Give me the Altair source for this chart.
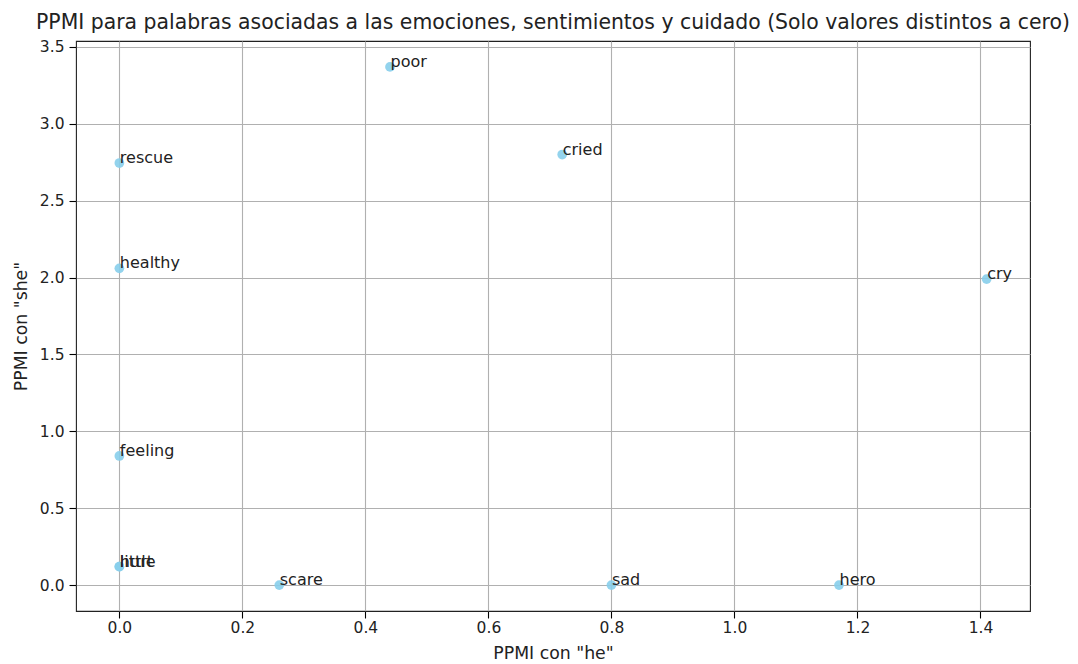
import altair as alt
import pandas as pd

words = ["poor", "cried", "rescue", "healthy", "cry", "feeling", "little", "hurt", "scare", "sad", "hero"]
ppmi_he = [0.44, 0.72, 0.0, 0.0, 1.41, 0.0, 0.0, 0.0, 0.26, 0.80, 1.17]
ppmi_she = [3.37, 2.80, 2.745, 2.06, 1.99, 0.84, 0.12, 0.12, 0.0, 0.0, 0.0]
x_ticks = [0.0, 0.2, 0.4, 0.6, 0.8, 1.0, 1.2, 1.4]
y_ticks = [0.0, 0.5, 1.0, 1.5, 2.0, 2.5, 3.0, 3.5]

df = pd.DataFrame({"word": words, "he": ppmi_he, "she": ppmi_she})

FONT = "DejaVu Sans"
TICK_FS = 15.5
AXIS_TITLE_FS = 17.3
LABEL_FS = 16
TITLE_FS = 20.4

common_axis = dict(format=".1f", grid=True, gridColor="#b0b0b0", gridWidth=1.1,
                   tickColor="black", tickWidth=1.1, tickSize=7,
                   labelFontSize=TICK_FS, labelColor="#222222", labelFont=FONT,
                   titleFontSize=AXIS_TITLE_FS, titleFontWeight="normal",
                   titleColor="#222222", titleFont=FONT, domain=False)

x_enc = alt.X("he:Q", title='PPMI con "he"',
              scale=alt.Scale(domain=[-0.0705, 1.4805], nice=False, zero=False),
              axis=alt.Axis(values=x_ticks, labelPadding=2, titlePadding=9, **common_axis))
y_enc = alt.Y("she:Q", title='PPMI con "she"',
              scale=alt.Scale(domain=[-0.1685, 3.5385], nice=False, zero=False),
              axis=alt.Axis(values=y_ticks, labelPadding=5, titlePadding=9, **common_axis))

base = alt.Chart(df).encode(x=x_enc, y=y_enc)

points = base.mark_circle(size=95, color="#87CEEB", opacity=0.9)
labels = base.mark_text(align="left", baseline="alphabetic", dx=0.5, fontSize=LABEL_FS,
                        font=FONT, color="#222222").encode(text="word:N")

chart = (points + labels).properties(
    width=954,
    height=570,
    title=alt.TitleParams(
        "PPMI para palabras asociadas a las emociones, sentimientos y cuidado (Solo valores distintos a cero)",
        fontSize=TITLE_FS, font=FONT, fontWeight="normal", color="#222222",
        anchor="middle", frame="group", baseline="alphabetic", offset=0, dy=9.8),
    autosize=alt.AutoSizeParams(type="none"),
    padding={"left": 68, "top": 33, "right": 40, "bottom": 52},
).configure_view(stroke="#222222", strokeWidth=1.1)

chart.save("out.html", embed_options={"renderer": "svg", "actions": False})
